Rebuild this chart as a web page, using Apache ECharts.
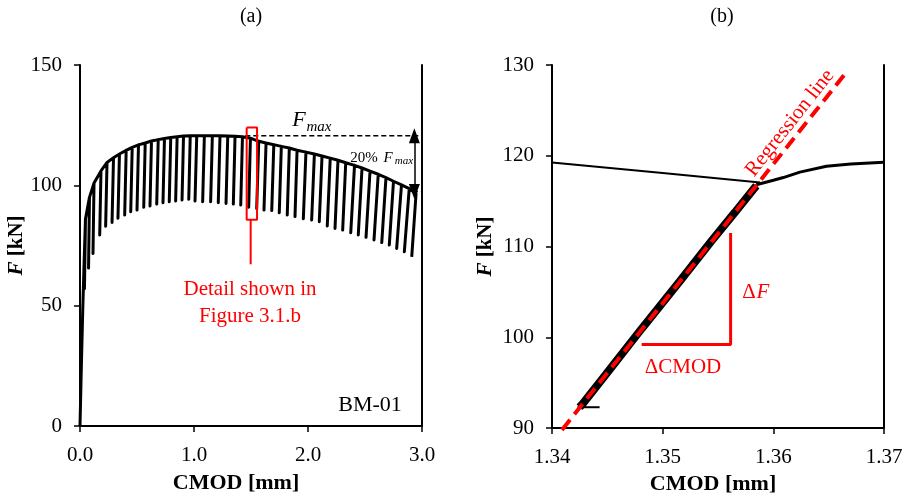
<!DOCTYPE html>
<html>
<head>
<meta charset="utf-8">
<script src="https://cdn.jsdelivr.net/npm/echarts@6/dist/echarts.min.js"></script>
<style>
html, body { margin: 0; padding: 0; background: #fff; }
#grafico { width: 913px; height: 500px; }
</style>
</head>
<body>
<div id="grafico"></div>
<script>
// (a) BM-01 cyclic test, first loading branch
var initialCmod = [0, 0.012, 0.024, 0.036, 0.048];
var initialForce = [0, 25, 48, 68, 86];

// (a) every cycle: point where unloading starts and where it ends
var peakCmod = [0.048, 0.083, 0.123, 0.184, 0.237, 0.294, 0.346, 0.405, 0.458, 0.513,
    0.572, 0.627, 0.686, 0.741, 0.796, 0.852, 0.908, 0.967, 1.024, 1.091,
    1.161, 1.228, 1.296, 1.360, 1.425, 1.495, 1.568, 1.632, 1.700, 1.766,
    1.836, 1.904, 1.982, 2.056, 2.123, 2.195, 2.263, 2.331, 2.408, 2.474,
    2.544, 2.616, 2.684, 2.750, 2.820, 2.888, 2.948];
var peakForce = [86, 95, 101, 106, 109.5, 111.5, 113, 114.5, 115.8, 116.8,
    117.6, 118.4, 119.0, 119.5, 119.9, 120.2, 120.5, 120.6, 120.6, 120.6,
    120.6, 120.6, 120.5, 120.4, 120.2, 119.6, 118.3, 117.6, 116.9, 116.2,
    115.5, 114.6, 113.8, 113.0, 112.2, 111.3, 110.4, 109.4, 108.3, 107.2,
    105.9, 104.6, 103.2, 101.7, 100.2, 98.6, 96.6];
var troughCmod = [0.039, 0.075, 0.114, 0.173, 0.225, 0.281, 0.333, 0.392, 0.445, 0.500,
    0.559, 0.614, 0.673, 0.728, 0.783, 0.839, 0.895, 0.954, 1.009, 1.076,
    1.146, 1.213, 1.281, 1.345, 1.410, 1.480, 1.550, 1.614, 1.682, 1.748,
    1.818, 1.886, 1.959, 2.032, 2.099, 2.169, 2.237, 2.304, 2.375, 2.441,
    2.509, 2.579, 2.647, 2.713, 2.778, 2.845, 2.910];
var troughForce = [57, 65.6, 71.7, 79.4, 83.0, 84.6, 86.3, 87.7, 89.0, 89.7,
    90.9, 91.4, 92.2, 92.8, 93.2, 93.5, 93.9, 94.2, 93.5, 93.2,
    93.2, 92.8, 92.5, 92.2, 91.8, 90.9, 90.4, 89.7, 89.5, 88.6,
    87.7, 87.0, 86.1, 85.6, 84.9, 83.1, 82.1, 81.4, 80.3, 79.4,
    78.4, 77.3, 76.2, 75.2, 73.8, 72.4, 70.3];

// (a) annotations
var fmaxCmod = [1.45, 3.0];
var fmaxForce = [120.6, 120.6];
var dropCmod = [2.92, 3.0];
var dropForce = [97.4, 97.4];
var arrowCmod = 2.933;
var boxCmod = [1.462, 1.553, 1.553, 1.462, 1.462];
var boxForce = [124, 124, 85.7, 85.7, 124];
var leaderCmod = [1.497, 1.497];
var leaderForce = [85.7, 67.2];

// (b) detail of one cycle
var envelopeCmod = [1.34, 1.35, 1.3588];
var envelopeForce = [119.25, 118.1, 117.05];
var baseCmod = [1.3443, 1.3423];
var baseForce = [92.3, 92.3];
var reloadCmod = [1.34248, 1.34276, 1.34488, 1.34816, 1.35153, 1.35434, 1.35654, 1.35846];
var reloadForce = [92.3, 92.66, 95.93, 101.04, 106.14, 110.51, 113.79, 116.70];
var tailCmod = [1.35846, 1.3600, 1.3609, 1.3624, 1.3648, 1.3670, 1.3700];
var tailForce = [116.8, 117.3, 117.6, 118.2, 118.85, 119.1, 119.3];
var regressionCmod = [1.3409, 1.3666];
var regressionForce = [89.8, 129.2];
var deltaCmod = [1.35614, 1.35614, 1.3481];
var deltaForce = [111.5, 99.2, 99.2];

function pares(xs, ys) {
    var out = [];
    for (var i = 0; i < xs.length; i++) out.push([xs[i], ys[i]]);
    return out;
}

// loading -> unloading -> reloading path
var cyclicData = pares(initialCmod, initialForce);
for (var j = 0; j < peakCmod.length; j++) {
    if (j > 0) cyclicData.push([peakCmod[j], peakForce[j]]);
    cyclicData.push([troughCmod[j], troughForce[j]]);
    if (j < peakCmod.length - 1) cyclicData.push([peakCmod[j], peakForce[j]]);
}

var serif = '"Liberation Serif", "Times New Roman", serif';
var negro = '#000';
var rojo = '#ff0000';

function linea(data, xi, yi, color, width, type) {
    return {
        type: 'line',
        xAxisIndex: xi,
        yAxisIndex: yi,
        data: data,
        symbol: 'none',
        silent: true,
        lineStyle: { color: color, width: width, type: type || 'solid' }
    };
}

var chartDom = document.getElementById('grafico');
var myChart = echarts.init(chartDom);

var ejeX = function (grid, min, max, interval, dec, gap, pad) {
    return {
        type: 'value', gridIndex: grid, min: min, max: max, interval: interval,
        name: 'CMOD [mm]', nameLocation: 'middle', nameGap: gap,
        nameTextStyle: { fontFamily: serif, fontSize: 22, fontWeight: 'bold', color: negro, padding: pad },
        axisLine: { show: true, onZero: false, lineStyle: { color: negro, width: 2 } },
        axisTick: { show: true, length: 6, lineStyle: { color: negro, width: 1.5 } },
        axisLabel: {
            margin: 19, fontFamily: serif, fontSize: 21, color: negro,
            formatter: function (v) { return v.toFixed(dec); }
        },
        splitLine: { show: false }
    };
};

var ejeY = function (grid, min, max, interval, gap) {
    return {
        type: 'value', gridIndex: grid, min: min, max: max, interval: interval,
        name: '{fi|F} [kN]', nameLocation: 'middle', nameGap: gap, nameRotate: 90,
        nameTextStyle: {
            fontFamily: serif, fontSize: 21, fontWeight: 'bold', color: negro,
            rich: { fi: { fontFamily: serif, fontSize: 21, fontWeight: 'bold', fontStyle: 'italic', color: negro } }
        },
        axisLine: { show: true, onZero: false, lineStyle: { color: negro, width: 2 } },
        axisTick: { show: true, length: 6, lineStyle: { color: negro, width: 1.5 } },
        axisLabel: { margin: 18, fontFamily: serif, fontSize: 21, color: negro },
        splitLine: { show: false }
    };
};

var marco = function (grid, min, max) {
    return {
        type: 'value', gridIndex: grid, min: min, max: max, position: 'right',
        axisLine: { show: true, onZero: false, lineStyle: { color: negro, width: 2 } },
        axisTick: { show: false }, axisLabel: { show: false }, splitLine: { show: false }
    };
};

function texto(x, y, str, font, color) {
    return {
        type: 'text', x: x, y: y, silent: true,
        style: { text: str, font: font, fill: color || negro, align: 'center', verticalAlign: 'middle' }
    };
}

var cyclicSeries = linea(cyclicData, 0, 0, negro, 3);
cyclicSeries.lineStyle.join = 'round';
var fmaxSeries = linea(pares(fmaxCmod, fmaxForce), 0, 0, negro, 1.5, [5, 3]);
fmaxSeries.markLine = {
    silent: true,
    symbol: ['triangle', 'triangle'],
    symbolSize: [11, 15],
    label: { show: false },
    lineStyle: { color: negro, width: 1.5, type: 'solid' },
    data: [[{ coord: [arrowCmod, fmaxForce[0]] }, { coord: [arrowCmod, dropForce[0]] }]]
};

var regression = linea(pares(regressionCmod, regressionForce), 1, 2, rojo, 4, [13, 7]);
regression.clip = false;

var option = {
    animation: false,
    backgroundColor: '#fff',
    grid: [
        { left: 80, top: 65, width: 342, height: 361 },
        { left: 552, top: 65, width: 332, height: 366 }
    ],
    xAxis: [
        ejeX(0, 0, 3, 1, 1, 46, [0, 30, 0, 0]),
        ejeX(1, 1.34, 1.37, 0.01, 2, 43, [0, 10, 0, 0])
    ],
    yAxis: [
        ejeY(0, 0, 150, 50, 51),
        marco(0, 0, 150),
        ejeY(1, 90, 130, 10, 56),
        marco(1, 90, 130)
    ],
    series: [
        cyclicSeries,
        fmaxSeries,
        linea(pares(dropCmod, dropForce), 0, 0, negro, 1.5, [5, 3]),
        linea(pares(boxCmod, boxForce), 0, 0, rojo, 2),
        linea(pares(leaderCmod, leaderForce), 0, 0, rojo, 2),
        linea(pares(envelopeCmod, envelopeForce), 1, 2, negro, 2),
        linea(pares(baseCmod, baseForce), 1, 2, negro, 2),
        linea(pares(reloadCmod, reloadForce), 1, 2, negro, 8),
        linea(pares(tailCmod, tailForce), 1, 2, negro, 3),
        regression,
        linea(pares(deltaCmod, deltaForce), 1, 2, rojo, 3)
    ],
    graphic: [
        texto(251, 17, '(a)', '20px ' + serif),
        texto(722, 17, '(b)', '20px ' + serif),
        texto(299, 120, 'F', 'italic 22px ' + serif),
        texto(319, 127, 'max', 'italic 15px ' + serif),
        texto(364, 158, '20%', '15px ' + serif),
        texto(388, 158, 'F', 'italic 15px ' + serif),
        texto(404, 161, 'max', 'italic 11px ' + serif),
        texto(250, 289, 'Detail shown in', '21px ' + serif, rojo),
        texto(250, 316, 'Figure 3.1.b', '21px ' + serif, rojo),
        texto(370, 405, 'BM-01', '22px ' + serif),
        texto(749, 292, '\u0394', '21px ' + serif, rojo),
        texto(763, 292, 'F', 'italic 21px ' + serif, rojo),
        texto(683, 367, '\u0394CMOD', '21px ' + serif, rojo),
        {
            type: 'text', x: 790, y: 123, rotation: 51.7 * Math.PI / 180, silent: true,
            style: { text: 'Regression line', font: '21px ' + serif, fill: rojo, align: 'center', verticalAlign: 'middle' }
        }
    ]
};

myChart.setOption(option);
</script>
</body>
</html>
